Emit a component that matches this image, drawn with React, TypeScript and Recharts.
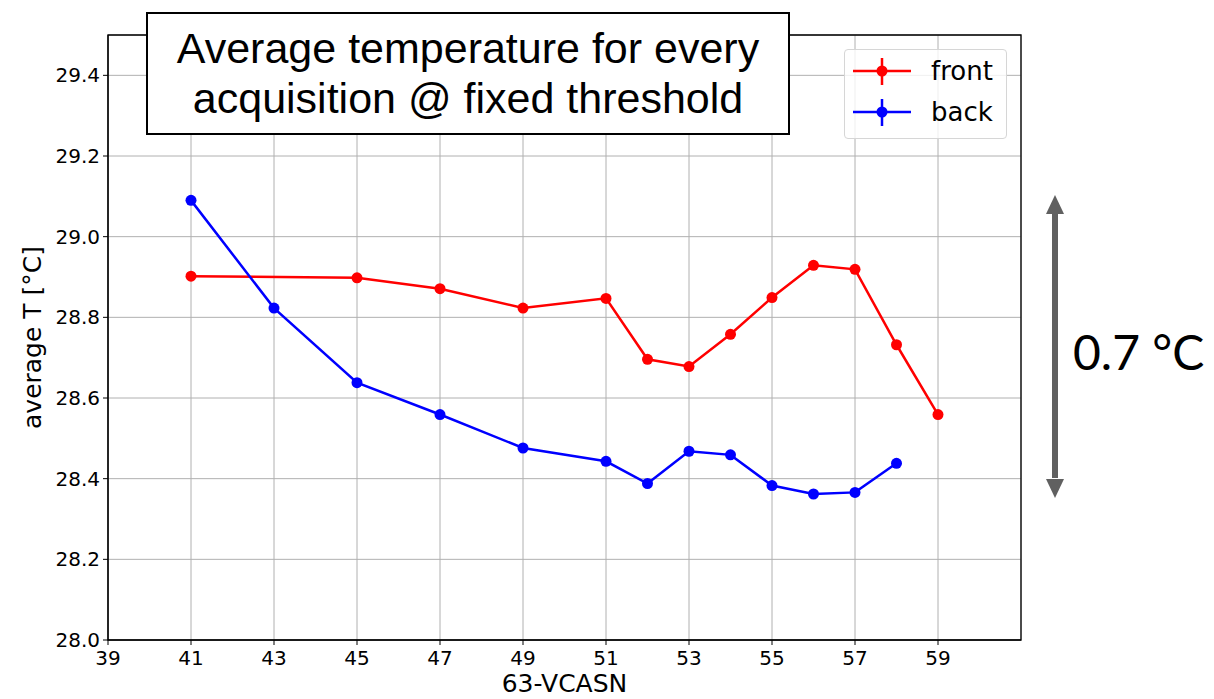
import React from 'react';
import { LineChart, Line, XAxis, YAxis, CartesianGrid, ReferenceArea, Legend } from 'recharts';

// 63-VCASN values of the acquisitions
const vcasn = [41, 43, 45, 47, 49, 51, 52, 53, 54, 55, 56, 57, 58, 59];
// average temperatures [°C], null where the side has no acquisition
const frontT = [28.902, null, 28.898, 28.871, 28.823, 28.847, 28.696, 28.678, 28.758, 28.849, 28.929, 28.919, 28.732, 28.559];
const backT = [29.09, 28.823, 28.638, 28.559, 28.476, 28.443, 28.388, 28.468, 28.459, 28.383, 28.362, 28.366, 28.438, null];

const xTicks = [39, 41, 43, 45, 47, 49, 51, 53, 55, 57, 59];
const yTicks = [28.0, 28.2, 28.4, 28.6, 28.8, 29.0, 29.2, 29.4];

const seriesNames = ['front', 'back'];
const seriesColors = ['#ff0000', '#0000ff'];

const titleLines = ['Average temperature for every', 'acquisition @ fixed threshold'];
const spanLabel = '0.7 °C';

const data = vcasn.map((v, i) => ({ x: v, front: frontT[i], back: backT[i] }));

const FONT = '"DejaVu Sans", sans-serif';

const LegendBox = () => (
  <div
    style={{
      width: 163,
      height: 90,
      boxSizing: 'border-box',
      border: '1px solid #d6d6d6',
      borderRadius: 4,
      background: 'rgba(255,255,255,0.8)',
      fontFamily: FONT,
      fontSize: 26,
      color: '#000',
    }}
  >
    {seriesNames.map((name, i) => (
      <div key={name} style={{ position: 'absolute', left: 0, top: i === 0 ? 8 : 49, height: 32, width: 163 }}>
        <svg width={70} height={32} style={{ position: 'absolute', left: 0, top: 0 }}>
          <line x1={9} x2={67} y1={14} y2={14} stroke={seriesColors[i]} strokeWidth={2.5} />
          <line x1={38} x2={38} y1={1} y2={28} stroke={seriesColors[i]} strokeWidth={2.5} />
          <circle cx={38} cy={14} r={5.5} fill={seriesColors[i]} />
        </svg>
        <span style={{ position: 'absolute', left: 87, top: -4, lineHeight: '36px' }}>{name}</span>
      </div>
    ))}
  </div>
);

const YLabel = (props: any) => {
  const vb = props.viewBox || {};
  const cy = (vb.y || 0) + (vb.height || 0) / 2;
  return (
    <text
      x={32}
      y={cy}
      transform={`rotate(-90, 32, ${cy})`}
      textAnchor="middle"
      dominantBaseline="central"
      fontFamily={FONT}
      fontSize={25}
      fill="#000"
    >
      average T [°C]
    </text>
  );
};

export default function App() {
  return (
    <div style={{ position: 'absolute', left: 0, top: 0, width: 1214, height: 699, background: '#fff' }}>
      <LineChart width={1214} height={699} data={data} margin={{ top: 35, right: 193, left: 0, bottom: 0 }}>
        <CartesianGrid stroke="#b0b0b0" strokeWidth={1} />
        <XAxis
          dataKey="x"
          type="number"
          domain={[39, 61]}
          ticks={xTicks}
          height={59}
          tickSize={5}
          tickMargin={6}
          stroke="#000"
          tick={{ fill: '#000', fontSize: 20, fontFamily: FONT }}
          label={{ value: '63-VCASN', position: 'insideBottom', offset: 7, fontSize: 25, fontFamily: FONT, fill: '#000' }}
        />
        <YAxis
          type="number"
          domain={[28, 29.5]}
          ticks={yTicks}
          width={108}
          tickSize={5}
          tickMargin={3}
          stroke="#000"
          allowDataOverflow
          tickFormatter={(v: number) => v.toFixed(1)}
          tick={{ fill: '#000', fontSize: 20, fontFamily: FONT }}
          label={<YLabel />}
        />
        <ReferenceArea x1={39} x2={61} y1={28} y2={29.5} fill="none" stroke="#000" strokeWidth={1.3} />
        <Line
          dataKey="front"
          name="front"
          stroke={seriesColors[0]}
          strokeWidth={2.5}
          dot={{ r: 5.5, fill: seriesColors[0], stroke: seriesColors[0], strokeWidth: 0 }}
          connectNulls
          isAnimationActive={false}
        />
        <Line
          dataKey="back"
          name="back"
          stroke={seriesColors[1]}
          strokeWidth={2.5}
          dot={{ r: 5.5, fill: seriesColors[1], stroke: seriesColors[1], strokeWidth: 0 }}
          connectNulls
          isAnimationActive={false}
        />
        <Legend
          layout="horizontal"
          verticalAlign="middle"
          align="center"
          content={() => <LegendBox />}
          wrapperStyle={{ left: 844, top: 49, width: 163, height: 90 }}
        />
      </LineChart>

      {/* title box on top of the plot */}
      <div
        style={{
          position: 'absolute',
          left: 146,
          top: 12,
          width: 644,
          height: 123,
          boxSizing: 'border-box',
          border: '2px solid #000',
          background: '#fff',
          fontFamily: '"Liberation Sans", Arial, sans-serif',
          fontSize: 43,
          color: '#000',
          textAlign: 'center',
          lineHeight: '50px',
          paddingTop: 9,
        }}
      >
        {titleLines.map((t) => (
          <div key={t}>{t}</div>
        ))}
      </div>

      {/* span annotation on the right */}
      <svg width={40} height={320} style={{ position: 'absolute', left: 1035, top: 188 }}>
        <line x1={20} x2={20} y1={22} y2={290} stroke="#606060" strokeWidth={6} />
        <polygon points="20,7 11,26 29,26" fill="#606060" />
        <polygon points="20,310 11,291 29,291" fill="#606060" />
      </svg>
      <div
        style={{
          position: 'absolute',
          left: 1073,
          top: 322,
          fontFamily: 'Lato, "Open Sans", sans-serif',
          fontSize: 48,
          lineHeight: '60px',
          color: '#000',
          whiteSpace: 'nowrap',
        }}
      >
        {spanLabel}
      </div>
    </div>
  );
}
